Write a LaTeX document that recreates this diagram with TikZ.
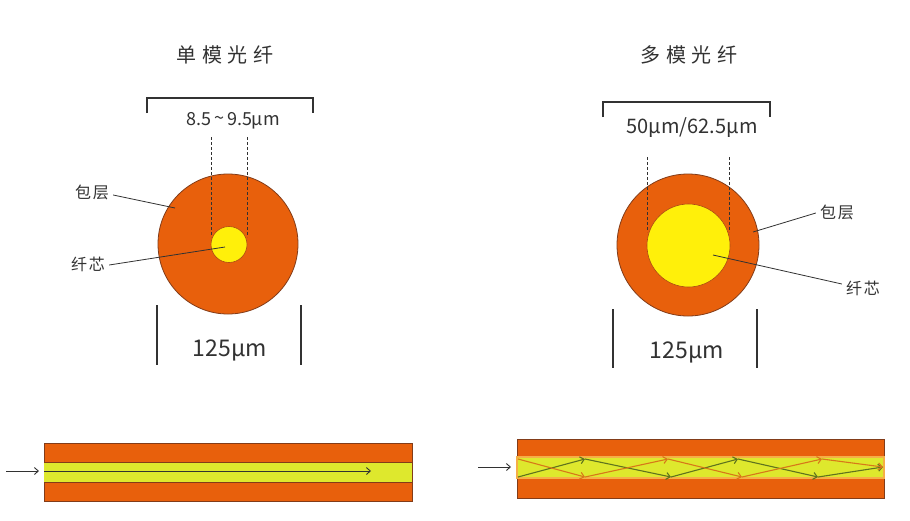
\documentclass[tikz,border=0pt]{standalone}
\usepackage{fontspec}
\setmainfont{Noto Sans CJK SC}
\usetikzlibrary{arrows.meta}
\definecolor{fo}{RGB}{232,96,12}
\definecolor{fb}{RGB}{130,60,25}
\definecolor{fy}{RGB}{255,240,10}
\definecolor{fg}{RGB}{222,232,45}
\definecolor{txt}{RGB}{50,50,50}
\definecolor{ray1}{RGB}{95,115,30}
\definecolor{ray2}{RGB}{215,120,25}
\definecolor{coreedge}{RGB}{245,175,70}
\tikzset{
  clad/.style={circle, fill=fo, draw=fb, line width=0.8pt, minimum size=#1, inner sep=0pt},
  corec/.style={circle, fill=fy, draw=fb!60!fo, line width=0.6pt, minimum size=#1, inner sep=0pt},
  title/.style={font=\fontsize{20}{20}\selectfont\addfontfeatures{LetterSpace=28}, text=txt},
  lbl/.style={font=\fontsize{16}{16}\selectfont\addfontfeatures{LetterSpace=12}, text=txt, inner sep=1pt},
  dimtxt/.style={font=\fontsize{#1}{#1}\selectfont, text=txt, inner sep=0pt},
  leader/.style={draw=txt, line width=0.8pt},
  dimln/.style={draw=txt, line width=1.3pt},
  ext/.style={draw=txt, line width=0.8pt, dash pattern=on 3pt off 2pt},
  barb/.style={-{Straight Barb[length=4pt,width=7pt]}, line width=#1},
}
\begin{document}
\begin{tikzpicture}[x=1pt,y=-1pt]
\useasboundingbox[fill=white] (0,0) rectangle (910,520);

% ---------- single-mode ----------
\node[title] (t1) at (225,55) {单模光纤};
\draw[dimln] (147,113) -- (147,98) -- (313,98) -- (313,113);
\node[dimtxt=18] (w1) at (233,121) {8.5\,\raisebox{0.1ex}{\textasciitilde}\,9.5μm};
\node[clad=140pt] (c1) at (228,244) {};
\node[corec=36pt] (k1) at (229,244.5) {};
\draw[ext] (211,137) -- (211,237);
\draw[ext] (247,137) -- (247,237);
\node[lbl] (l1) at (92,192) {包层};
\coordinate (p1) at (175,208);
\draw[leader] (l1.east) ++(3,3) -- (p1);
\node[lbl] (l2) at (88,264) {纤芯};
\coordinate (p2) at (225,247);
\draw[leader] (l2.east) ++(3,1) -- (p2);
\draw[dimln] (157,305) -- (157,365);
\draw[dimln] (301,305) -- (301,365);
\node[dimtxt=23] (d1) at (230,350) {125μm};

% ---------- multi-mode ----------
\node[title] (t2) at (689,55) {多模光纤};
\draw[dimln] (603,117) -- (603,102) -- (770,102) -- (770,117);
\node[dimtxt=20] (w2) at (692,128) {50μm/62.5μm};
\node[clad=142pt] (c2) at (688,245) {};
\node[corec=83pt] (k2) at (688.5,245.5) {};
\draw[ext] (647,157) -- (647,232);
\draw[ext] (729,157) -- (729,232);
\node[lbl] (l3) at (837,212) {包层};
\coordinate (p3) at (753,232);
\draw[leader] (l3.west) ++(-3,1) -- (p3);
\node[lbl] (l4) at (863,288) {纤芯};
\coordinate (p4) at (713,255);
\draw[leader] (l4.west) ++(-3,-4) -- (p4);
\draw[dimln] (613,309) -- (613,368);
\draw[dimln] (757,309) -- (757,368);
\node[dimtxt=23] (d2) at (687,352) {125μm};

% ---------- single-mode fibre, side view ----------
\draw[fill=fo, draw=fb, line width=0.9pt] (44,443) rectangle (412,501);
\fill[fg] (44,462) rectangle (412,482);
\draw[fb, line width=0.8pt] (44,462) -- (412,462) (44,482) -- (412,482);
\coordinate (s0) at (6,471);
\coordinate (s1) at (39,471);
\coordinate (s2) at (44,471);
\coordinate (s3) at (371,471);
\draw[barb=0.9pt, txt] (s0) -- (s1);
\draw[barb=0.9pt, txt] (s2) -- (s3);

% ---------- multi-mode fibre, side view ----------
\draw[fill=fo, draw=fb, line width=0.9pt] (517,439) rectangle (884,498);
\draw[fill=fg, draw=coreedge, line width=1.2pt] (517,457) rectangle (884,478);
\coordinate (m0) at (478,467);
\coordinate (m1) at (511,467);
\draw[barb=0.9pt, txt] (m0) -- (m1);
\draw[barb=1.1pt, ray1] (518,477) -- (585,459);
\draw[barb=1.1pt, ray1] (585,459) -- (671,477);
\draw[barb=1.1pt, ray1] (671,477) -- (738,459);
\draw[barb=1.1pt, ray1] (738,459) -- (818,477);
\draw[barb=1.1pt, ray1] (818,477) -- (883,467);
\draw[barb=1.1pt, ray2] (518,459) -- (585,477);
\draw[barb=1.1pt, ray2] (585,477) -- (668,459);
\draw[barb=1.1pt, ray2] (668,459) -- (742,477);
\draw[barb=1.1pt, ray2] (742,477) -- (822,459);
\draw[barb=1.1pt, ray2] (822,459) -- (883,467);
\end{tikzpicture}
\end{document}
